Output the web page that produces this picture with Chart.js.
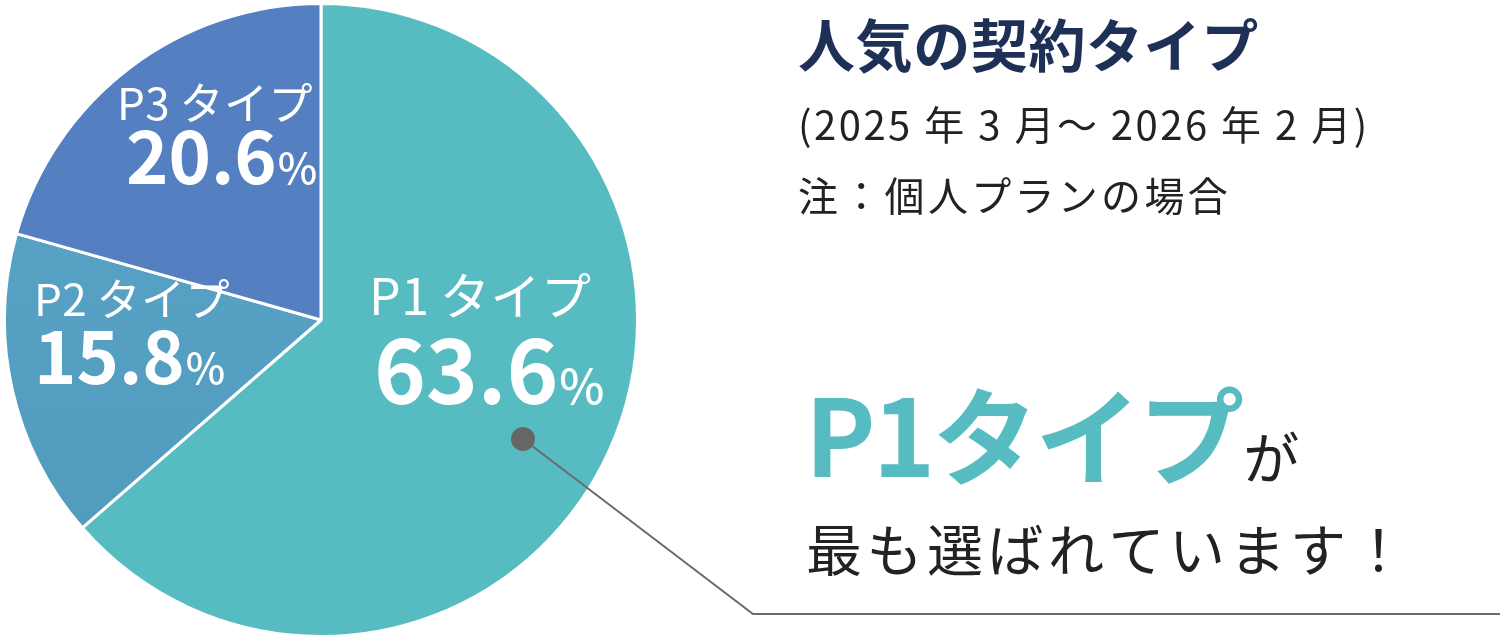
<!DOCTYPE html>
<html lang="ja">
<head>
<meta charset="utf-8">
<title>人気の契約タイプ</title>
<script src="https://cdn.jsdelivr.net/npm/chart.js@4"></script>
<style>
  html, body { margin: 0; padding: 0; background: #fff; }
  #pie { display: block; }
</style>
</head>
<body>
<canvas id="pie" width="1500" height="641"></canvas>
<script>
// データ
const planLabels = ["P1タイプ", "P2タイプ", "P3タイプ"]
const planShares = [63.6, 15.8, 20.6]
const planColors = ["#57bcc2", "#56a0c3", "#5480c2"]

const titleText = "人気の契約タイプ"
const periodText = "(2025 年 3 月～ 2026 年 2 月)"
const noteText = "注：個人プランの場合"

const FONT = '"Noto Sans CJK JP", "Noto Sans", sans-serif'

// ラベル位置（円グラフ上）
const labelPos = [
  { x: 369, nameY: 315, nameSize: 50, valY: 404, valSize: 88, pctSize: 48, valX: 374 },
  { x: 34,  nameY: 316, nameSize: 44, valY: 384, valSize: 72, pctSize: 42 },
  { x: 117, nameY: 120, nameSize: 44, valY: 184, valSize: 72, pctSize: 42, valX: 126 }
]

function drawText(ctx, text, x, y, font, color, spacing) {
  ctx.font = font
  ctx.fillStyle = color
  ctx.letterSpacing = (spacing || 0) + "px"
  ctx.fillText(text, x, y)
  const w = ctx.measureText(text).width
  ctx.letterSpacing = "0px"
  return w
}

const overlay = {
  id: "overlay",
  afterDraw(chart) {
    const ctx = chart.ctx
    ctx.save()
    ctx.textBaseline = "alphabetic"
    ctx.textAlign = "left"

    // スライスのラベル
    planLabels.forEach((label, i) => {
      const p = labelPos[i]
      const name = label.replace("タイプ", "") + "\u2009タイプ"
      drawText(ctx, name, p.x, p.nameY, `400 ${p.nameSize}px ${FONT}`, "#fff", 0.5)
      const v = planShares[i].toFixed(1)
      const vx = p.valX || p.x
      const w = drawText(ctx, v, vx, p.valY, `700 ${p.valSize}px ${FONT}`, "#fff")
      drawText(ctx, "%", vx + w + 1, p.valY, `500 ${p.pctSize}px ${FONT}`, "#fff")
    })

    // 引き出し線
    ctx.strokeStyle = "#6b6b6b"
    ctx.lineWidth = 2
    ctx.beginPath()
    ctx.moveTo(523, 439)
    ctx.lineTo(753, 614)
    ctx.lineTo(1500, 614)
    ctx.stroke()
    ctx.fillStyle = "#666"
    ctx.beginPath()
    ctx.arc(523, 439, 12, 0, Math.PI * 2)
    ctx.fill()

    // 右側のテキスト
    drawText(ctx, titleText, 798, 67, `700 57px ${FONT}`, "#1e3056", 0.6)
    drawText(ctx, periodText, 798, 140, `400 40px ${FONT}`, "#222", 2.5)
    drawText(ctx, noteText, 798, 211, `400 40px ${FONT}`, "#222", 3.3)
    const w = drawText(ctx, planLabels[0], 805, 477, `700 106px ${FONT}`, planColors[0], -3)
    drawText(ctx, "が", 805 + w + 2, 479, `400 56px ${FONT}`, "#222")
    drawText(ctx, "最も選ばれています！", 806, 571, `400 56px ${FONT}`, "#222", 4.5)

    ctx.restore()
  }
}

const ctx = document.getElementById("pie").getContext("2d")

new Chart(ctx, {
  type: "pie",
  data: {
    labels: planLabels,
    datasets: [{
      data: planShares,
      backgroundColor: (c) => {
        if (c.dataIndex !== 1 || !c.chart.chartArea) return planColors[c.dataIndex]
        const a = c.chart.chartArea
        const g = c.chart.ctx.createLinearGradient(0, a.top + 150, 0, a.bottom - 100)
        g.addColorStop(0, "#59a3c7")
        g.addColorStop(1, "#519bbd")
        return g
      },
      borderColor: "#fff",
      borderWidth: 3
    }]
  },
  options: {
    responsive: false,
    animation: false,
    layout: { padding: { left: 3, top: 2, right: 861, bottom: 3 } },
    plugins: {
      legend: { display: false },
      tooltip: { enabled: false }
    }
  },
  plugins: [overlay]
})
</script>
</body>
</html>
